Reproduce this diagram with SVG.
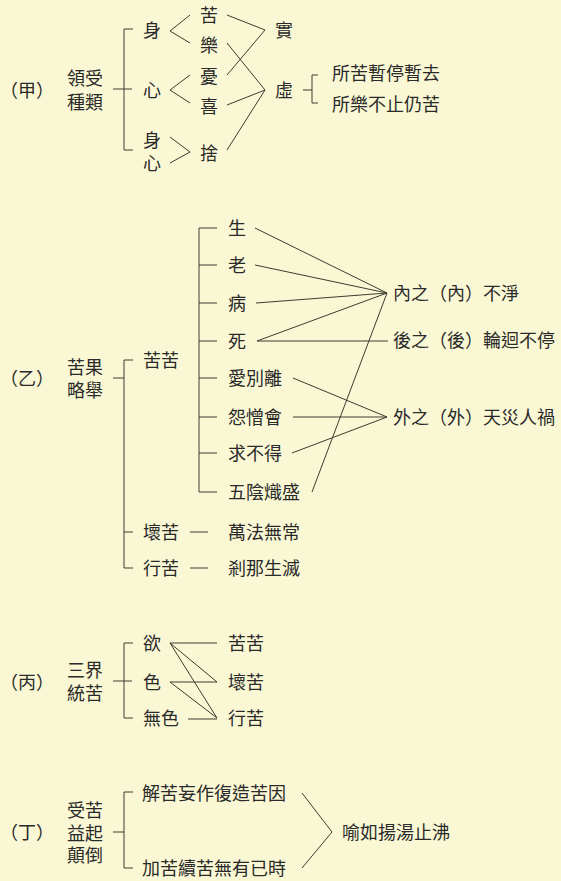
<svg xmlns="http://www.w3.org/2000/svg" width="561" height="881" viewBox="0 0 561 881">
<style>
text{font-family:"Noto Sans CJK TC","Noto Sans CJK SC",sans-serif;font-size:18px;fill:#2a2a2a}
.c path{stroke:#3c3c30;stroke-width:1;fill:none}
</style>
<rect width="561" height="881" fill="#FAF8D4"/>
<g class="c" id="connectors">
<path d="M113,89 H132 M133,29 H124 V150 H133"/>
<path d="M190,15 L170,31 L190,43 M190,75 L170,90 L190,103 M170,137 L190,152 L170,163"/>
<path d="M227,15 L265,30 M227,75 L265,30 M227,43 L265,90 M227,105 L265,90 M227,150 L265,90"/>
<path d="M303,90 H312 M318,75 H312 V103 H318"/>
<path d="M113,378 H124 M133,360 H124 V568 H133 M124,532 H133"/>
<path d="M217,228 H199 V492 H217 M199,265 H217 M199,303 H217 M199,341 H217 M199,378 H217 M199,417 H217 M199,453 H217"/>
<path d="M255,228 L387,293 M255,265 L387,293 M256,303 L387,293 M257,341 L387,293 M257,341 L388,341 M312,492 L387,293"/>
<path d="M293,378 L387,417 M293,417 L387,417 M292,453 L387,417"/>
<path d="M190,532 H208 M190,568 H208"/>
<path d="M113,681 H132 M133,643 H124 V718 H133"/>
<path d="M170,643 L217,643 M170,643 L217,682 M170,643 L217,718 M170,682 L217,682 M170,682 L217,718 M188,719 L217,719"/>
<path d="M113,832 H124 M133,792 H124 V868 H133"/>
<path d="M302,793 L332,832 L302,868"/>
</g>
<g id="jia">
<text x="0" y="97">（甲）</text>
<text x="67" y="85">領受<tspan x="67" y="109">種類</tspan></text>
<text x="143" y="37">身</text>
<text x="143" y="97">心</text>
<text x="143" y="147">身<tspan x="143" y="170">心</tspan></text>
<text x="200" y="22">苦</text>
<text x="200" y="52">樂</text>
<text x="200" y="83">憂</text>
<text x="200" y="113">喜</text>
<text x="200" y="160">捨</text>
<text x="275" y="37">實</text>
<text x="275" y="97">虛</text>
<text x="332" y="80">所苦暫停暫去<tspan x="332" y="111">所樂不止仍苦</tspan></text>
</g>
<g id="yi">
<text x="0" y="385">（乙）</text>
<text x="67" y="374">苦果<tspan x="67" y="397">略舉</tspan></text>
<text x="143" y="367">苦苦</text>
<text x="143" y="539">壞苦</text>
<text x="143" y="575">行苦</text>
<text x="228" y="235">生</text>
<text x="228" y="272">老</text>
<text x="228" y="310">病</text>
<text x="228" y="348">死</text>
<text x="228" y="385">愛別離</text>
<text x="228" y="424">怨憎會</text>
<text x="228" y="460">求不得</text>
<text x="228" y="499">五陰熾盛</text>
<text x="228" y="539">萬法無常</text>
<text x="228" y="575">剎那生滅</text>
<text x="393" y="300">內之（內）不淨</text>
<text x="393" y="347">後之（後）輪迴不停</text>
<text x="393" y="424">外之（外）天災人禍</text>
</g>
<g id="bing">
<text x="0" y="689">（丙）</text>
<text x="67" y="677">三界<tspan x="67" y="700">統苦</tspan></text>
<text x="143" y="650">欲</text>
<text x="143" y="689">色</text>
<text x="143" y="725">無色</text>
<text x="228" y="650">苦苦</text>
<text x="228" y="689">壞苦</text>
<text x="228" y="725">行苦</text>
</g>
<g id="ding">
<text x="0" y="839">（丁）</text>
<text x="67" y="817">受苦<tspan x="67" y="840">益起</tspan><tspan x="67" y="862">顛倒</tspan></text>
<text x="142" y="800">解苦妄作復造苦因</text>
<text x="142" y="875">加苦續苦無有已時</text>
<text x="342" y="839">喻如揚湯止沸</text>
</g>
</svg>
